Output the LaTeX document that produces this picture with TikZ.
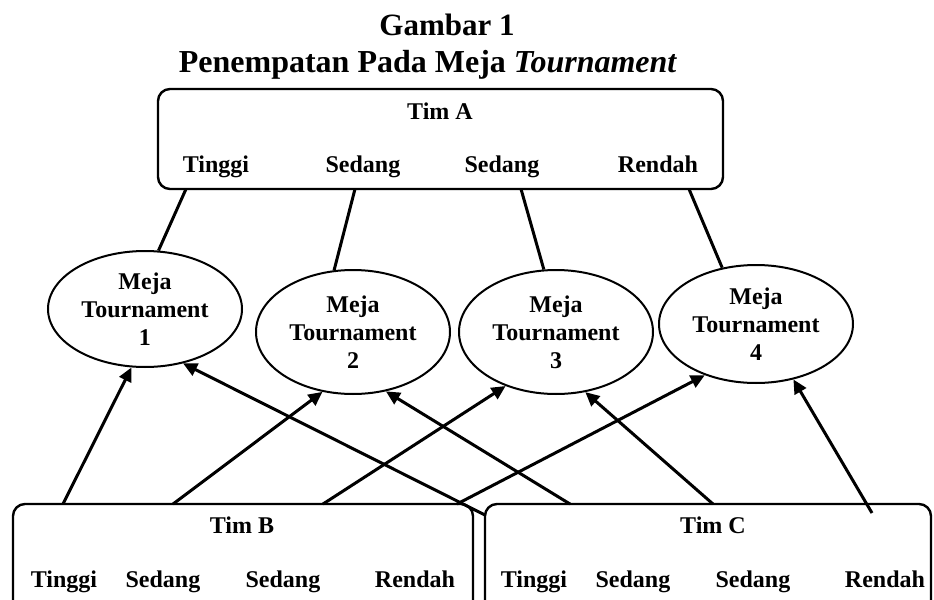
\documentclass[tikz,border=0pt]{standalone}
\usepackage{fontspec}
\setmainfont{Liberation Serif}
\usetikzlibrary{shapes.geometric,arrows.meta}

\begin{document}
\begin{tikzpicture}[x=0.5pt,y=-0.5pt,
    team/.style={draw,line width=1.2pt,rounded corners=6pt,inner sep=0pt},
    meja/.style={draw,ellipse,line width=1pt,inner sep=0pt,align=center,
        minimum width=97pt,font=\fontsize{12}{14}\selectfont\bfseries},
    lbl/.style={font=\fontsize{12}{14}\selectfont\bfseries,inner sep=0pt,anchor=base},
    judul/.style={font=\fontsize{15.5}{18}\selectfont\bfseries,inner sep=0pt,anchor=base},
    link/.style={line width=1.5pt},
    arr/.style={line width=1.5pt,-{Triangle[length=7pt,width=6.5pt]}}]
    \path[use as bounding box] (0,0) rectangle (934,600);
    \clip (0,0) rectangle (934,600);

    % Title
    \node[judul] (gbr) at (447,35) {Gambar 1};
    \node[judul,font=\fontsize{16}{18}\selectfont\bfseries] (ttl) at (428,72) {Penempatan Pada Meja \textit{Tournament}};

    % Tim A
    \node[team,minimum width=282.5pt,minimum height=50pt] (timA) at (440.5,139) {};
    \node[lbl] (tA) at (440,119) {Tim A};
    \foreach \n/\x/\t in {1/216/Tinggi,2/363/Sedang,3/502/Sedang,4/658/Rendah}
        \node[lbl] (a\n) at (\x,172) {\t};

    % Tim B and Tim C
    \node[team,minimum width=230pt,minimum height=60.5pt] (timB) at (243,564.5) {};
    \node[team,minimum width=223pt,minimum height=60.5pt] (timC) at (708,564.5) {};
    \node[lbl] (tB) at (242,533) {Tim B};
    \node[lbl] (tC) at (713,533) {Tim C};
    \foreach \n/\x/\t in {1/64/Tinggi,2/163/Sedang,3/283/Sedang,4/415/Rendah}
        \node[lbl] (b\n) at (\x,587) {\t};
    \foreach \n/\x/\t in {1/534/Tinggi,2/633/Sedang,3/753/Sedang,4/885/Rendah}
        \node[lbl] (c\n) at (\x,587) {\t};

    % Meja tournament
    \node[meja,minimum height=58pt] (m1) at (145,309) {Meja\\Tournament\\1};
    \node[meja,minimum height=62pt] (m2) at (353,332) {Meja\\Tournament\\2};
    \node[meja,minimum height=62pt] (m3) at (556,332) {Meja\\Tournament\\3};
    \node[meja,minimum height=59pt] (m4) at (756,324) {Meja\\Tournament\\4};

    % ends on the boxes
    \coordinate (pa1) at (186,189);
    \coordinate (pa2) at (355,189);
    \coordinate (pa3) at (521,189);
    \coordinate (pa4) at (689,189);
    \coordinate (pb1) at (63,504);
    \coordinate (pb2) at (173,504);
    \coordinate (pb3) at (323,504);
    \coordinate (pb4) at (457,504);
    \coordinate (pc1) at (485,515);
    \coordinate (pc2) at (570,504);
    \coordinate (pc3) at (713,504);
    \coordinate (pc4) at (872,513);

    % Tim A to the tables
    \draw[link] (pa1) -- (m1.77.6);
    \draw[link] (pa2) -- (m2.107.3);
    \draw[link] (pa3) -- (m3.101.8);
    \draw[link] (pa4) -- (m4.121.3);

    % Tim B and Tim C to the tables
    \draw[arr] (pb1) -- (m1.257.6);
    \draw[arr] (pc1) -- (m1.305.2);
    \draw[arr] (pb2) -- (m2.243.8);
    \draw[arr] (pc2) -- (m2.299.6);
    \draw[arr] (pb3) -- (m3.227.2);
    \draw[arr] (pc3) -- (m3.296.2);
    \draw[arr] (pb4) -- (m4.225);
    \draw[arr] (pc4) -- (m4.304.8);
\end{tikzpicture}
\end{document}
